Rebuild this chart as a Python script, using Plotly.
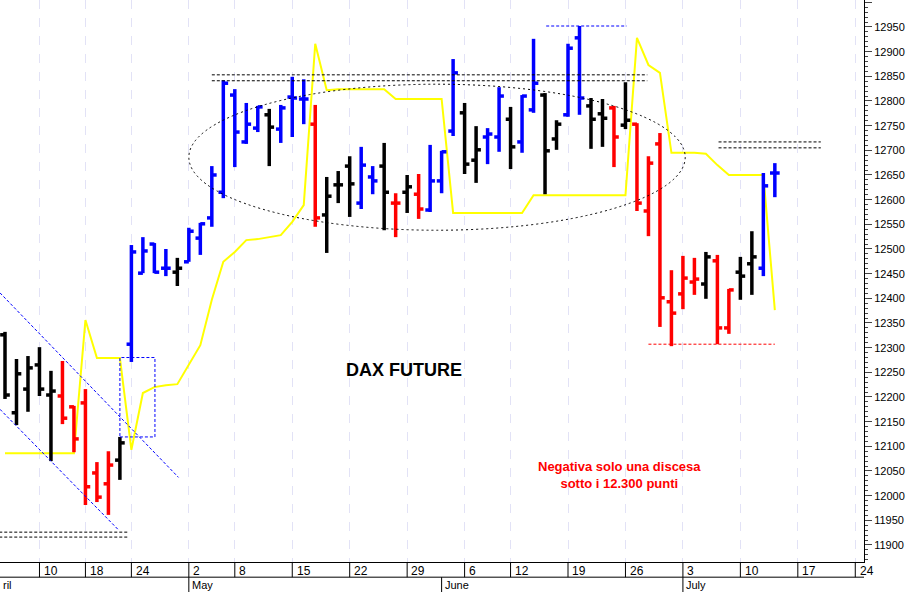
import plotly.graph_objects as go

# OHLC bars (trading-day index 0 = 5 Apr 2017)
opens = [12326,12168,12216,12265,12204,12202,12180,12188,12046,12024,12072,12307,12451,12510,12461,12453,
         12474,12522,12563,12615,12812,12717,12745,12772,12743,12808,12804,12753,12569,12630,12668,12593,
         12646,12668,12593,12615,12611,12579,12638,12739,12776,12680,12727,12727,12763,12717,12782,12812,
         12723,12772,12928,12790,12774,12786,12751,12753,12577,12713,12393,12409,12433,12429,12476,12340,
         12453,12470,12461,12654]
highs = [12332,12277,12283,12301,12253,12273,12182,12216,12068,12090,12119,12508,12524,12512,12500,12482,
         12543,12553,12668,12842,12824,12796,12790,12784,12792,12849,12844,12792,12646,12658,12688,12707,
         12668,12715,12613,12650,12652,12711,12699,12885,12796,12749,12745,12828,12788,12812,12926,12816,
         12761,12916,12952,12806,12804,12790,12838,12755,12688,12735,12457,12486,12482,12494,12488,12419,
         12484,12536,12654,12674]
lows = [12196,12143,12170,12202,12070,12145,12088,11981,11987,11961,12032,12271,12451,12451,12445,12425,
        12474,12488,12545,12603,12666,12713,12737,12668,12715,12727,12753,12545,12492,12593,12565,12581,
        12611,12538,12524,12573,12561,12575,12613,12729,12652,12634,12672,12697,12662,12695,12776,12611,
        12701,12768,12772,12703,12707,12666,12743,12577,12526,12342,12303,12378,12407,12399,12307,12328,
        12397,12407,12445,12605]
closes = [12204,12247,12259,12216,12212,12157,12115,12018,11997,12062,12107,12494,12496,12453,12461,12461,
          12536,12551,12650,12836,12737,12753,12788,12747,12786,12806,12804,12563,12607,12630,12632,12670,
          12638,12615,12593,12626,12581,12638,12697,12857,12672,12701,12733,12810,12707,12810,12836,12699,
          12753,12907,12806,12763,12765,12727,12761,12593,12674,12401,12370,12441,12439,12484,12340,12417,
          12445,12484,12628,12654]
bar_colors = list("KKKKKRRRRRKBBBBKBBBBBBBKBBBRKKKBBKRKRBBBKKBBKBBKKBBKKRKRRRRRRKRRKKBB")

# yellow indicator line
yellow = [12086,12086,12086,12086,12086,12086,12086,12356,12279,12279,12279,12093,12208,12220,12224,12226,
          12265,12305,12397,12474,12494,12518,12520,12524,12528,12555,12589,12916,12822,12824,12824,12824,
          12824,12824,12804,12804,12804,12804,12804,12573,12573,12573,12573,12573,12573,12573,12609,12609,
          12609,12609,12609,12609,12609,12609,12609,12928,12873,12857,12695,12695,12695,12693,12670,12650,
          12650,12650,12650,12376]

tick_pos = [3, 7, 11, 16, 20, 25, 30, 35, 40, 44, 49, 54, 59, 64, 69, 74]
tick_text = ["10", "18", "24", "2", "8", "15", "22", "29", "6", "12", "19", "26", "3", "10", "17", "24"]
month_pos = [-0.435, 16, 38, 59]
month_text = ["ril", "May", "June", "July"]

cmap = {"B": "#0000ff", "R": "#ff0000", "K": "#000000"}
fig = go.Figure()

fig.add_trace(go.Scatter(x=list(range(len(yellow))), y=yellow, mode="lines",
                         line=dict(color="#ffff00", width=2), hoverinfo="skip"))

for col in "KRB":
    xs, ys = [], []
    for i, c in enumerate(bar_colors):
        if c != col:
            continue
        xs += [i, i, None, i - 0.42, i, None, i, i + 0.42, None]
        ys += [lows[i], highs[i], None, opens[i], opens[i], None, closes[i], closes[i], None]
    fig.add_trace(go.Scatter(x=xs, y=ys, mode="lines", line=dict(color=cmap[col], width=3.5),
                             hoverinfo="skip"))

DASH = "3px,2px"
shapes = []
def hline(x0, x1, y, color):
    shapes.append(dict(type="line", x0=x0, x1=x1, y0=y, y1=y, line=dict(color=color, width=1, dash=DASH)))

for y in (12853, 12841):
    hline(18.0, 55.9, y, "black")
for y in (11926, 11916):
    hline(-0.5, 10.7, y, "black")
for y in (12717, 12705):
    hline(62.1, 71.0, y, "black")
hline(47.1, 54.1, 12952, "blue")
hline(56.0, 67.0, 12307, "red")
shapes.append(dict(type="rect", x0=10.0, x1=13.05, y0=12119, y1=12280,
                   line=dict(color="blue", width=1, dash=DASH)))
shapes.append(dict(type="line", x0=-0.435, x1=15.1, y0=12411, y1=12037,
                   line=dict(color="blue", width=1, dash=DASH)))
shapes.append(dict(type="line", x0=-0.435, x1=9.9, y0=12175, y1=11930,
                   line=dict(color="blue", width=1, dash=DASH)))
shapes.append(dict(type="circle", x0=16.0, x1=59.2, y0=12538, y1=12834,
                   line=dict(color="black", width=1, dash="2px,3px")))
for p in tick_pos:
    shapes.append(dict(type="line", xref="x", yref="paper", x0=p, x1=p, y0=0, y1=-0.027,
                       line=dict(color="black", width=1)))
for p in month_pos[1:]:
    shapes.append(dict(type="line", xref="x", yref="paper", x0=p, x1=p, y0=-0.027, y1=-0.06,
                       line=dict(color="black", width=1)))
shapes.append(dict(type="line", xref="paper", yref="paper", x0=0, x1=1, y0=-0.027, y1=-0.027,
                   line=dict(color="black", width=1)))

ann = []
for p, t in zip(tick_pos, tick_text):
    ann.append(dict(x=p + 0.2, y=0, xref="x", yref="paper", text=t, showarrow=False,
                    xanchor="left", yanchor="top", font=dict(size=12, color="black")))
for p, t in zip(month_pos, month_text):
    ann.append(dict(x=p + 0.1, y=-0.026, xref="x", yref="paper", text=t, showarrow=False,
                    xanchor="left", yanchor="top", font=dict(size=11, color="black")))
ann.append(dict(x=34.7, y=12255, text="<b>DAX FUTURE</b>", showarrow=False,
                font=dict(size=18, color="black")))
ann.append(dict(x=53.5, y=12042, text="<b>Negativa solo una discesa<br>sotto i 12.300 punti</b>",
                showarrow=False, font=dict(size=13, color="red")))

fig.update_layout(
    width=912, height=592, margin=dict(l=0, r=48, t=0, b=30, pad=0),
    paper_bgcolor="white", plot_bgcolor="white", showlegend=False,
    font=dict(family="Liberation Sans, Arial", color="black"),
    shapes=shapes, annotations=ann,
    xaxis=dict(range=[-0.435, 74.76], tickvals=tick_pos, showticklabels=False, ticks="",
               showgrid=True, gridcolor="#e2e2f6", griddash="dash", zeroline=False,
               showline=True, linecolor="black", mirror=True, automargin=False),
    yaxis=dict(range=[11865.5, 13004.7], side="right", dtick=50, tickformat="d", ticks="outside",
               ticklen=7, showgrid=False, zeroline=False, showline=True, linecolor="black",
               automargin=False, tickfont=dict(size=11),
               minor=dict(dtick=10, ticks="outside", ticklen=3)),
)
fig.write_html("out.html", config={"displayModeBar": False},
               post_script="document.body.style.margin='0';document.body.style.overflow='hidden';")
